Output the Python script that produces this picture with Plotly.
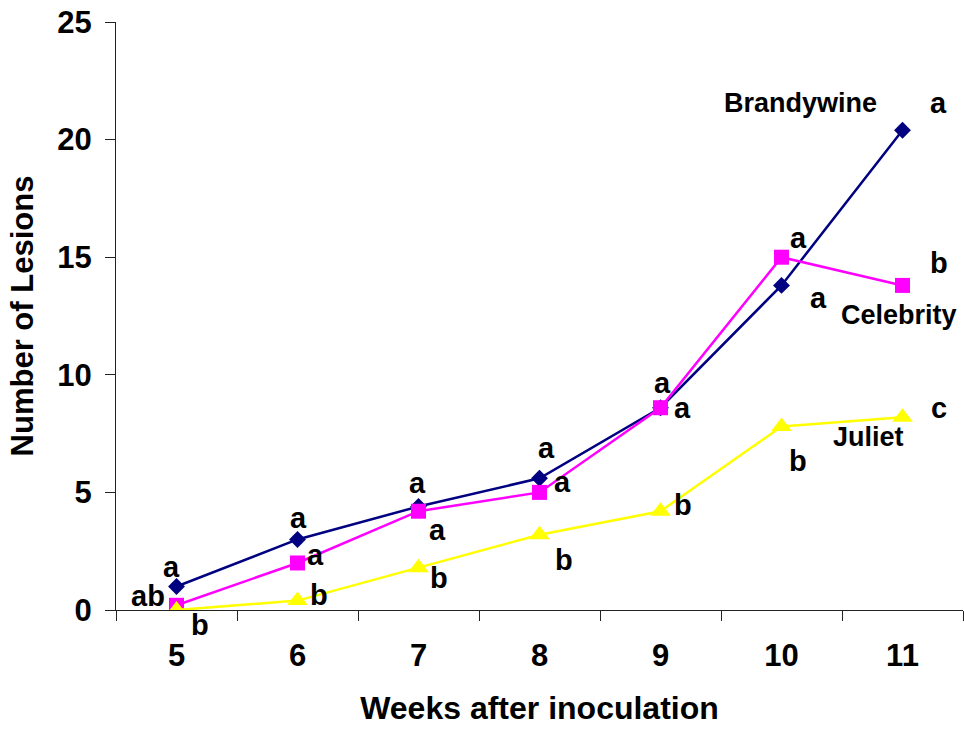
import plotly.graph_objects as go

# Weeks after inoculation (category axis)
weeks = ["5", "6", "7", "8", "9", "10", "11"]

# Mean number of lesions per cultivar
brandywine = [1.0, 3.0, 4.4, 5.6, 8.6, 13.8, 20.4]
celebrity = [0.2, 2.0, 4.2, 5.0, 8.6, 15.0, 13.8]
juliet = [0.0, 0.4, 1.8, 3.2, 4.2, 7.8, 8.2]

# Mean-separation letters for each week
brandywine_letters = ["a", "a", "a", "a", "a", "a", "a"]
celebrity_letters = ["ab", "a", "a", "a", "a", "a", "b"]
juliet_letters = ["b", "b", "b", "b", "b", "b", "c"]

# Pixel offsets (dx right, dy down) of each letter from its point
brandywine_offsets = [(-5, -19), (1, -21), (-1, -24), (7, -30), (2, -25), (37, 13), (36, -27)]
celebrity_offsets = [(-29, -9), (18, -8), (19, 19), (23, -10), (22, 0), (17, -19), (36, -22)]
juliet_offsets = [(23, 15), (21, -6), (20, 10), (24, 25), (22, -6), (16, 34), (36, -9)]

FONT = "Liberation Sans, Arial, sans-serif"
LETTER_SIZE = 29

fig = go.Figure()

fig.add_trace(go.Scatter(
    x=weeks, y=brandywine, mode="lines+markers", name="Brandywine",
    line=dict(color="#000080", width=2.5),
    marker=dict(symbol="diamond", size=13, color="#000080"),
))
fig.add_trace(go.Scatter(
    x=weeks, y=celebrity, mode="lines+markers", name="Celebrity",
    line=dict(color="#FF00FF", width=2.5),
    marker=dict(symbol="square", size=15, color="#FF00FF"),
))
fig.add_trace(go.Scatter(
    x=weeks, y=juliet, mode="lines+markers", name="Juliet",
    line=dict(color="#FFFF00", width=2.5),
    marker=dict(symbol="triangle-up", size=18, color="#FFFF00"),
))

# On a category axis, annotations are positioned by category index
annotations = []
for values, letters, offsets in [
    (brandywine, brandywine_letters, brandywine_offsets),
    (celebrity, celebrity_letters, celebrity_offsets),
    (juliet, juliet_letters, juliet_offsets),
]:
    for i, (v, letter, (dx, dy)) in enumerate(zip(values, letters, offsets)):
        annotations.append(dict(
            x=i, y=v, text=letter, showarrow=False,
            xshift=dx, yshift=-dy,
            font=dict(family=FONT, size=LETTER_SIZE, color="black", weight="bold"),
        ))

# Cultivar names next to the last point of each line
last = len(weeks) - 1
for name, values, (dx, dy) in [
    ("Brandywine", brandywine, (-102, -27)),
    ("Celebrity", celebrity, (-4, 30)),
    ("Juliet", juliet, (-34, 20)),
]:
    annotations.append(dict(
        x=last, y=values[-1], text=name, showarrow=False,
        xshift=dx, yshift=-dy,
        font=dict(family=FONT, size=27, color="black", weight="bold"),
    ))

fig.update_layout(
    width=964, height=730,
    margin=dict(l=116, r=1, t=22, b=120),
    paper_bgcolor="white", plot_bgcolor="white",
    showlegend=False,
    annotations=annotations,
    font=dict(family=FONT, color="black"),
    xaxis=dict(
        type="category", tickson="boundaries",
        showline=True, linecolor="#222", linewidth=1.3,
        ticks="outside", ticklen=10, tickcolor="#222", tickwidth=1.3,
        showgrid=False, zeroline=False,
        tickfont=dict(family=FONT, size=31, color="black", weight="bold"),
        ticklabelstandoff=18,
        title=dict(text="Weeks after inoculation", standoff=24,
                   font=dict(family=FONT, size=32, color="black", weight="bold")),
        range=[-0.5, 6.5],
    ),
    yaxis=dict(
        range=[0, 25], tickvals=[0, 5, 10, 15, 20, 25],
        showline=True, linecolor="#222", linewidth=1.3,
        ticks="outside", ticklen=10, tickcolor="#222", tickwidth=1.3,
        showgrid=False, zeroline=False,
        tickfont=dict(family=FONT, size=31, color="black", weight="bold"),
        ticklabelstandoff=7,
        title=dict(text="Number of Lesions", standoff=14,
                   font=dict(family=FONT, size=31, color="black", weight="bold")),
    ),
)

fig.write_html("out.html")
